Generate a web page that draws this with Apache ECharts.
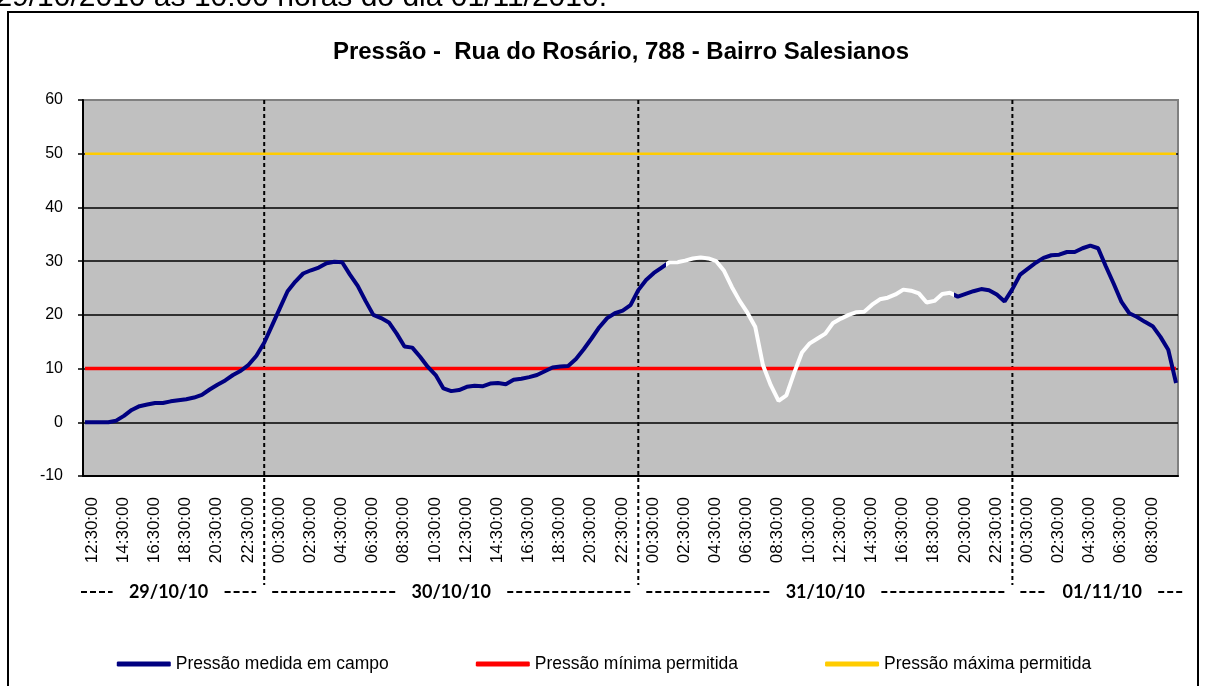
<!DOCTYPE html>
<html>
<head>
<meta charset="utf-8">
<script src="https://cdn.jsdelivr.net/npm/echarts@6/dist/echarts.min.js"></script>
<style>
html,body{margin:0;padding:0;background:#fff;}
#chart{width:1208px;height:686px;}
</style>
</head>
<body>
<div id="chart"></div>
<script>
// leituras de pressao (mca), de 30 em 30 min, desde 29/10/10 12:30
var leituras = [
  0, 0, 0, 0, 0.3, 1.2, 2.3, 3.0, 3.3, 3.6,
  3.6, 3.9, 4.1, 4.3, 4.6, 5.1, 6.1, 7.0, 7.8, 8.8,
  9.6, 10.7, 12.4, 14.8, 18.0, 21.2, 24.4, 26.2, 27.7, 28.3,
  28.8, 29.6, 29.9, 29.8, 27.5, 25.4, 22.6, 20.0, 19.4, 18.6,
  16.5, 14.1, 13.9, 12.2, 10.3, 8.8, 6.3, 5.8, 6.0, 6.6,
  6.8, 6.7, 7.2, 7.3, 7.1, 7.9, 8.1, 8.4, 8.8, 9.5,
  10.2, 10.4, 10.5, 11.8, 13.6, 15.6, 17.7, 19.4, 20.3, 20.8,
  21.8, 24.6, 26.5, 27.8, 28.8, 29.8, 29.8, 30.1, 30.5, 30.7,
  30.5, 30.0, 28.2, 25.2, 22.6, 20.4, 17.8, 10.6, 6.9, 4.0,
  5.0, 9.2, 13.0, 14.7, 15.6, 16.5, 18.5, 19.3, 20.0, 20.5,
  20.6, 21.9, 22.9, 23.2, 23.8, 24.7, 24.5, 24.0, 22.3, 22.6,
  23.9, 24.1, 23.4, 23.9, 24.4, 24.8, 24.6, 23.8, 22.5, 24.8,
  27.5, 28.6, 29.7, 30.6, 31.1, 31.2, 31.7, 31.7, 32.4, 32.9,
  32.4, 29.0, 25.8, 22.4, 20.3, 19.6, 18.7, 17.9, 15.9, 13.5,
  7.3
];
var limiteMinimo = 10;
var limiteMaximo = 50;
var dias = ['29/10/10', '30/10/10', '31/10/10', '01/11/10'];
var nomes = ['Pressão medida em campo', 'Pressão mínima permitida', 'Pressão máxima permitida'];
var cores = ['#000080', '#FF0000', '#FFCC00'];
// trecho da linha desenhado em branco (indices da categoria)
var trechoBranco = [149, 223];

// eixo de 15 em 15 minutos
function pad(n){ return (n < 10 ? '0' : '') + n; }
var horarios = [];
for (var i = 0; i < 281; i++) {
  var t = (12 * 60 + 30 + i * 15) % 1440;
  horarios.push(pad(Math.floor(t / 60)) + ':' + pad(t % 60) + ':00');
}

var gridLeft = 83, gridRight = 30, gridTop = 100, gridBottom = 210;
var fonte = '"Liberation Sans", Arial, sans-serif';

var chart = echarts.init(document.getElementById('chart'));

var option = {
  animation: false,
  backgroundColor: '#fff',
  grid: {
    left: gridLeft, right: gridRight, top: gridTop, bottom: gridBottom,
    show: true, backgroundColor: '#C0C0C0', borderColor: '#808080', borderWidth: 2
  },
  legend: {
    top: 650, left: 'center',
    itemWidth: 54, itemHeight: 5, itemGap: 87,
    icon: 'roundRect',
    textStyle: {fontFamily: fonte, fontSize: 17.5, color: '#000'},
    data: [
      {name: nomes[0], itemStyle: {color: cores[0]}},
      {name: nomes[1], itemStyle: {color: cores[1]}},
      {name: nomes[2], itemStyle: {color: cores[2]}}
    ]
  },
  xAxis: {
    type: 'category',
    data: horarios,
    boundaryGap: true,
    axisLine: {onZero: false, lineStyle: {color: '#000', width: 2}},
    axisTick: {interval: 0, length: 4, lineStyle: {color: '#000', width: 1.5}},
    axisLabel: {
      rotate: 90, margin: 21, color: '#000', fontFamily: fonte, fontSize: 17,
      verticalAlign: 'top', lineHeight: 14,
      interval: function(idx){ return idx % 8 === 0 && idx < 280; }
    },
    splitLine: {show: false}
  },
  yAxis: {
    type: 'value', min: -10, max: 60, interval: 10,
    axisLine: {show: true, lineStyle: {color: '#000', width: 2}},
    axisTick: {show: true, length: 5, lineStyle: {color: '#000', width: 1.5}},
    axisLabel: {color: '#000', fontFamily: fonte, fontSize: 16, margin: 20},
    splitLine: {show: true, showMaxLine: false, lineStyle: {color: '#000', width: 1.5}}
  },
  visualMap: {
    show: false, type: 'piecewise', dimension: 0, seriesIndex: 2,
    pieces: [
      {lt: trechoBranco[0], color: cores[0]},
      {gte: trechoBranco[0], lt: trechoBranco[1], color: '#FFFFFF'},
      {gte: trechoBranco[1], color: cores[0]}
    ]
  },
  series: [
    {
      name: nomes[1], type: 'line', symbol: 'none',
      lineStyle: {color: cores[1], width: 3.5}, itemStyle: {color: cores[1]},
      data: [[0, limiteMinimo], [horarios.length - 1, limiteMinimo]]
    },
    {
      name: nomes[2], type: 'line', symbol: 'none',
      lineStyle: {color: cores[2], width: 2.5}, itemStyle: {color: cores[2]},
      data: [[0, limiteMaximo], [horarios.length - 1, limiteMaximo]]
    },
    {
      name: nomes[0], type: 'line', symbol: 'none',
      lineStyle: {width: 4}, itemStyle: {color: cores[0]},
      data: leituras.map(function(v, k){ return [k * 2, v]; })
    }
  ]
};
chart.setOption(option);

// separadores de dia e rotulos das datas
var yTopo = chart.convertToPixel({yAxisIndex: 0}, 60);
var meiaNoite = [];
horarios.forEach(function(h, idx){ if (h === '00:00:00') meiaNoite.push(chart.convertToPixel({xAxisIndex: 0}, idx)); });
var limites = [gridLeft - 10].concat(meiaNoite, [1208 - gridRight + 14]);

var graficos = [
  {type: 'rect', shape: {x: 8, y: 12, width: 1190, height: 700},
   style: {fill: 'none', stroke: '#000', lineWidth: 2}, silent: true},
  {type: 'text', x: 607, y: 13,
   style: {text: 'dia 29/10/2010 às 10:00 horas do dia 01/11/2010.', align: 'right', verticalAlign: 'bottom',
           font: '30px ' + fonte, fill: '#000'}},
  {type: 'text', x: 621, y: 52,
   style: {text: 'Pressão -  Rua do Rosário, 788 - Bairro Salesianos', align: 'center', verticalAlign: 'middle',
           font: 'bold 24px ' + fonte, fill: '#000'}}
];
meiaNoite.forEach(function(x){
  graficos.push({type: 'line', shape: {x1: x, y1: yTopo, x2: x, y2: 585},
    style: {stroke: '#000', lineWidth: 2, lineDash: [4, 3]}, silent: true});
});
var yDatas = 592;
dias.forEach(function(d, n){
  var a = limites[n], b = limites[n + 1], c = (a + b) / 2;
  graficos.push({type: 'text', x: c, y: yDatas,
    style: {text: d, align: 'center', verticalAlign: 'middle', font: 'bold 18px Lato, ' + fonte, fill: '#000'}});
  graficos.push({type: 'line', shape: {x1: a + 8, y1: yDatas, x2: c - 56, y2: yDatas},
    style: {stroke: '#000', lineWidth: 2, lineDash: [6, 3]}, silent: true});
  graficos.push({type: 'line', shape: {x1: c + 56, y1: yDatas, x2: b - 8, y2: yDatas},
    style: {stroke: '#000', lineWidth: 2, lineDash: [6, 3]}, silent: true});
});
chart.setOption({graphic: graficos});
</script>
</body>
</html>
